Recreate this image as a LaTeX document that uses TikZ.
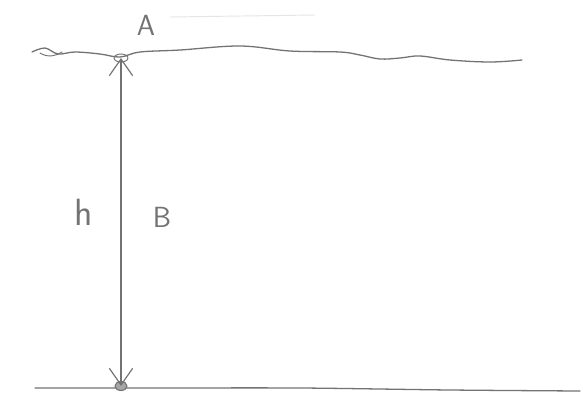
\documentclass[tikz,border=0pt]{standalone}
\usepackage{tikz}
\usetikzlibrary{positioning,arrows.meta}
\usepackage{xcolor}
\colorlet{pencil}{black!55}

\begin{document}
\begin{tikzpicture}[
  x=0.03cm, y=-0.03cm,
  pen/.style={draw=pencil, line width=1.1pt, line cap=round, line join=round},
  lbl/.style={text=pencil, font=\sffamily\Huge},
  arr/.style={{Straight Barb[length=5mm, width=7mm]}-{Straight Barb[length=5mm, width=7mm]}, draw=pencil, line width=1pt}
]
  \useasboundingbox[fill=white] (0,0) rectangle (583,411);
  % faint stroke at the top
  \draw[black!10, line width=0.8pt] (170,17) -- (315,15);
  % water surface
  \draw[pen] plot[smooth, tension=0.6] coordinates {(32,52) (45,48) (58,54) (75,52) (100,54) (120,57) (140,52)
    (180,50) (240,46) (290,51) (340,52) (360,55) (380,59) (400,58) (420,56) (450,60) (490,62) (522,60)};
  \draw[pen, line width=0.8pt] (40,53) .. controls (48,58) and (56,56) .. (62,52);
  % bottom
  \draw[pen] plot[smooth] coordinates {(35,388) (150,388) (300,388) (450,390) (580,391)};
  \coordinate (pA) at (121,58);
  \coordinate (pB) at (121,386);
  \draw[pencil, line width=0.8pt] (121,58) ellipse (7 and 4);
  \draw[pencil, fill=black!35, line width=0.9pt] (pB) ellipse (6 and 4.5);
  \draw[arr] (pA) -- (pB);
  \node[lbl] (A) at (146,25) {A};
  \node[lbl, scale=1.3] (h) at (84,212) {h};
  \node[lbl] (B) at (162,217) {B};
\end{tikzpicture}
\end{document}
